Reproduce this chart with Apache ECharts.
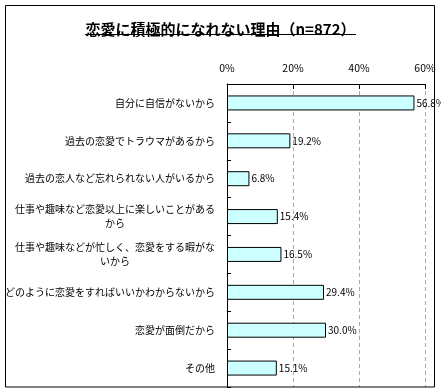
<!DOCTYPE html>
<html>
<head>
<meta charset="utf-8">
<script src="https://cdn.jsdelivr.net/npm/echarts@6/dist/echarts.min.js"></script>
<style>
html,body{margin:0;padding:0;background:#fff;}
#chart{width:441px;height:392px;}
</style>
</head>
<body>
<div id="chart"></div>
<script>
const titleText = '恋愛に積極的になれない理由（n=872）';
const categories = [
  '自分に自信がないから',
  '過去の恋愛でトラウマがあるから',
  '過去の恋人など忘れられない人がいるから',
  '仕事や趣味など恋愛以上に楽しいことがある\nから',
  '仕事や趣味などが忙しく、恋愛をする暇がな\nいから',
  'どのように恋愛をすればいいかわからないから',
  '恋愛が面倒だから',
  'その他'
];
const values = [56.8, 19.2, 6.8, 15.4, 16.5, 29.4, 30.0, 15.1];
const xTicks = [0, 20, 40, 60];

const FONT = '"Noto Sans CJK JP", "MS PGothic", sans-serif';
const TITLE_SIZE = 15;
// measure title for underline
const mctx = document.createElement('canvas').getContext('2d');
mctx.font = 'bold ' + TITLE_SIZE + 'px ' + FONT;
const tw = mctx.measureText(titleText).width;
const cx = 441 / 2;

const chart = echarts.init(document.getElementById('chart'), null, {renderer: 'canvas'});
chart.setOption({
  backgroundColor: '#ffffff',
  animation: false,
  title: {
    text: titleText,
    left: 'center',
    top: 17,
    textStyle: {fontFamily: FONT, fontSize: TITLE_SIZE, fontWeight: 'bold', color: '#000'}
  },
  graphic: [
    {type: 'rect', shape: {x: 5.5, y: 5.5, width: 429, height: 381.5}, style: {fill: 'none', stroke: '#000', lineWidth: 1}, z: 100},
    {type: 'line', shape: {x1: Math.round(cx - tw / 2), y1: 34.5, x2: Math.round(cx + tw / 2), y2: 34.5}, style: {stroke: '#000', lineWidth: 1}, z: 100}
  ],
  grid: {left: 227, right: 16, top: 84, bottom: 5, containLabel: false},
  xAxis: {
    type: 'value',
    position: 'top',
    min: xTicks[0],
    max: xTicks[xTicks.length - 1],
    interval: 20,
    axisLine: {show: true, lineStyle: {color: '#000', width: 1}},
    axisTick: {show: true, inside: true, length: 5, lineStyle: {color: '#000'}},
    axisLabel: {formatter: '{value}%', fontFamily: FONT, fontSize: 10.5, color: '#000', margin: 11},
    splitLine: {show: true, lineStyle: {color: '#aaa', type: [4, 3], width: 1}}
  },
  yAxis: {
    type: 'category',
    inverse: true,
    data: categories,
    axisLine: {show: true, lineStyle: {color: '#000', width: 1}},
    axisTick: {show: true, inside: true, length: 4, alignWithLabel: false, lineStyle: {color: '#000'}},
    axisLabel: {
      fontFamily: FONT, fontSize: 10, color: '#000', margin: 12, lineHeight: 14,
      formatter: function (v) { return v.split('\n').map(s => '{c|' + s + '}').join('\n'); },
      rich: {c: {align: 'center', fontFamily: FONT, fontSize: 10, color: '#000', lineHeight: 14}}
    }
  },
  series: [{
    type: 'bar',
    data: values,
    barWidth: 15,
    itemStyle: {color: '#ccffff', borderColor: '#000', borderWidth: 1},
    label: {
      show: true, position: 'right', distance: 2,
      formatter: p => p.value.toFixed(1) + '%',
      fontFamily: FONT, fontSize: 10, color: '#000'
    }
  }]
});
</script>
</body>
</html>
